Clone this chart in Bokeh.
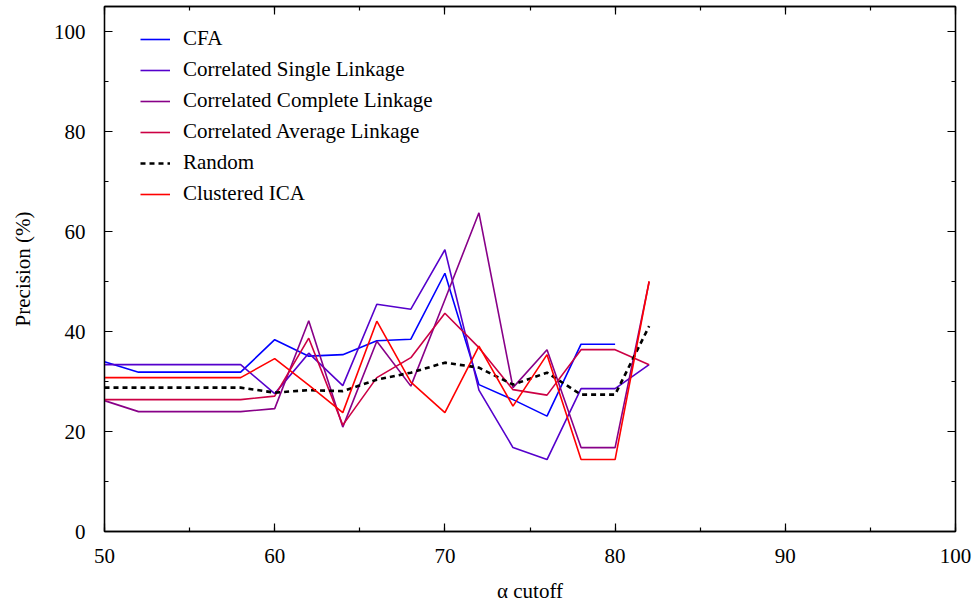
from bokeh.plotting import figure
from bokeh.models import (Range1d, LinearAxis, SingleIntervalTicker, Legend,
                          LegendItem, ColumnDataSource, CustomJSTickFormatter)
from bokeh.embed import file_html
from bokeh.resources import INLINE

# alpha cutoff values (x) and precision (%) per method
alpha = [50, 52, 54, 56, 58, 60, 62, 64, 66, 68, 70, 72, 74, 76, 78, 80, 82]
cfa = [34.0, 31.9, 31.9, 31.9, 31.9, 38.4, 35.1, 35.4, 38.2, 38.5, 51.7, 29.4, 26.4, 23.1, 37.5, 37.5]
single_linkage = [33.4, 33.4, 33.4, 33.4, 33.4, 27.6, 35.7, 29.2, 45.5, 44.5, 56.4, 28.3, 16.8, 14.4, 28.6, 28.6, 33.4]
complete_linkage = [26.2, 24.0, 24.0, 24.0, 24.0, 24.6, 42.2, 20.9, 38.1, 29.1, 46.4, 63.8, 28.8, 36.4, 16.8, 16.8, 50.0]
average_linkage = [26.4, 26.4, 26.4, 26.4, 26.4, 27.1, 38.7, 21.3, 30.8, 34.8, 43.7, 36.8, 28.4, 27.3, 36.4, 36.4, 33.4]
random_baseline = [28.8, 28.8, 28.8, 28.8, 28.8, 27.8, 28.3, 28.1, 30.4, 31.8, 33.8, 32.8, 29.4, 31.8, 27.4, 27.4, 41.1]
clustered_ica = [30.8, 30.8, 30.8, 30.8, 30.8, 34.6, 29.3, 23.8, 42.1, 29.9, 23.8, 37.1, 25.1, 35.4, 14.4, 14.4, 50.1]

series = [
    ("CFA", cfa, "#0000ff", "solid", 1.6),
    ("Correlated Single Linkage", single_linkage, "#5500cc", "solid", 1.6),
    ("Correlated Complete Linkage", complete_linkage, "#880088", "solid", 1.6),
    ("Correlated Average Linkage", average_linkage, "#cc0044", "solid", 1.6),
    ("Random", random_baseline, "#000000", "5 4", 2.6),
    ("Clustered ICA", clustered_ica, "#ff0000", "solid", 1.6),
]

FONT = "Liberation Serif"
SIZE = "21px"

p = figure(width=974, height=605, output_backend="svg", toolbar_location=None,
           x_range=Range1d(50, 100), y_range=Range1d(0, 105.1),
           min_border_left=104, min_border_right=19, min_border_top=6,
           min_border_bottom=73, x_axis_location=None, y_axis_location=None)
p.xgrid.visible = False
p.ygrid.visible = False
p.outline_line_color = "black"
p.outline_line_width = 1.3
p.background_fill_color = "white"
p.border_fill_color = "white"


def styled_axis(axis, labels=True):
    axis.axis_line_color = "black"
    axis.axis_line_width = 1.3
    axis.major_tick_in = 8
    axis.major_tick_out = 0
    axis.minor_tick_in = 4
    axis.minor_tick_out = 0
    axis.major_tick_line_color = "black"
    axis.minor_tick_line_color = "black"
    axis.major_tick_line_width = 1.2
    axis.minor_tick_line_width = 1.2
    axis.major_label_text_font = FONT
    axis.major_label_text_font_size = SIZE
    axis.major_label_text_color = "black"
    axis.axis_label_text_font = FONT
    axis.axis_label_text_font_style = "normal"
    axis.axis_label_text_font_size = SIZE
    axis.axis_label_text_color = "black"
    if not labels:
        # mirrored tick marks only, no numbers
        axis.formatter = CustomJSTickFormatter(code="return ''")
        axis.major_label_standoff = 0
    return axis


x_ticks = dict(interval=10, num_minor_ticks=2)
y_ticks = dict(interval=20, num_minor_ticks=2)

bottom = styled_axis(LinearAxis(ticker=SingleIntervalTicker(**x_ticks), axis_label="α cutoff"))
bottom.major_label_standoff = 17
bottom.axis_label_standoff = 13
top = styled_axis(LinearAxis(ticker=SingleIntervalTicker(**x_ticks)), labels=False)
left = styled_axis(LinearAxis(ticker=SingleIntervalTicker(**y_ticks), axis_label="Precision (%)"))
left.major_label_standoff = 19
left.axis_label_standoff = 16
right = styled_axis(LinearAxis(ticker=SingleIntervalTicker(**y_ticks)), labels=False)

p.add_layout(bottom, "below")
p.add_layout(top, "above")
p.add_layout(left, "left")
p.add_layout(right, "right")

items = []
for name, vals, color, dash, width in series:
    src = ColumnDataSource(dict(x=alpha[:len(vals)], y=vals))
    r = p.line("x", "y", source=src, line_color=color, line_width=width,
               line_dash=dash)
    items.append(LegendItem(label=name, renderers=[r]))

legend = Legend(items=items, location=(36, 325), orientation="vertical",
                border_line_color=None, background_fill_alpha=0,
                label_text_font=FONT, label_text_font_size=SIZE,
                label_text_color="black", glyph_width=30, glyph_height=20,
                label_height=20, spacing=6, label_standoff=13, padding=0,
                margin=0)
p.add_layout(legend, "center")

open("out.html", "w").write(file_html(p, INLINE))
